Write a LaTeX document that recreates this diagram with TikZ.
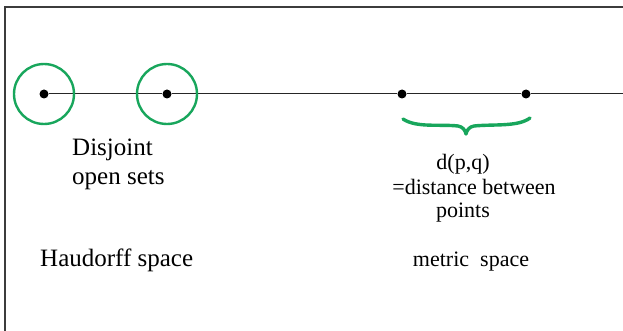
\documentclass[tikz,border=0pt]{standalone}
\usepackage{fontspec}
\setmainfont{Liberation Serif}
\definecolor{setgreen}{RGB}{24,166,92}
\definecolor{framegray}{RGB}{60,60,60}
\begin{document}
\begin{tikzpicture}[x=1pt,y=-1pt,
  pt/.style={circle,fill=black,inner sep=0pt,minimum size=9pt},
  openset/.style={circle,draw=setgreen,line width=2.4pt,inner sep=0pt,minimum size=60pt},
  lbl/.style={font=\fontsize{25}{28.5}\selectfont,inner sep=0pt},
  lblr/.style={font=\fontsize{22}{24}\selectfont,inner sep=0pt,align=center},
  curly/.style={setgreen,line width=3.4pt,line cap=round,line join=round}]
\useasboundingbox (0,0) rectangle (623,331);
\fill[white] (0,0) rectangle (623,331);
% frame
\coordinate (tl) at (5,7);
\coordinate (tr) at (623,7);
\coordinate (bl) at (5,331);
\draw[framegray,line width=1.3pt] (tr) -- (tl) -- (bl);
% points
\node[pt] (a) at (44,94) {};
\node[pt] (b) at (167,94) {};
\node[pt] (p) at (402,94) {};
\node[pt] (q) at (526,94) {};
\coordinate (end) at (623,94);
\draw[black!85,line width=1pt] (a) -- (b) -- (p) -- (q) -- (end);
% open sets
\node[openset] (ua) at (44,94) {};
\node[openset] (ub) at (167,94) {};
% brace
\coordinate (bs) at (403,119);
\coordinate (bl1) at (458,126);
\coordinate (btip) at (466,134);
\coordinate (br1) at (474,126);
\coordinate (be) at (530,118);
\draw[curly] (bs) .. controls (416,128) and (440,124) .. (bl1)
  .. controls (463,127) and (465,130) .. (btip)
  .. controls (467,130) and (469,127) .. (br1)
  .. controls (494,124) and (518,127) .. (be);
% labels
\node[lbl,anchor=base west,align=left] (dis) at (72,184) {Disjoint\\open sets};
\node[lbl,anchor=base west] (haus) at (40,266) {Haudorff space};
\node[lblr,anchor=base] (dpq) at (463,170) {d(p,q)};
\node[lblr,anchor=base] (dist) at (474,194) {=distance between};
\node[lblr,anchor=base] (pts) at (463,217) {points};
\node[lblr,anchor=base] (met) at (471,266) {metric\ \ space};
\end{tikzpicture}
\end{document}
